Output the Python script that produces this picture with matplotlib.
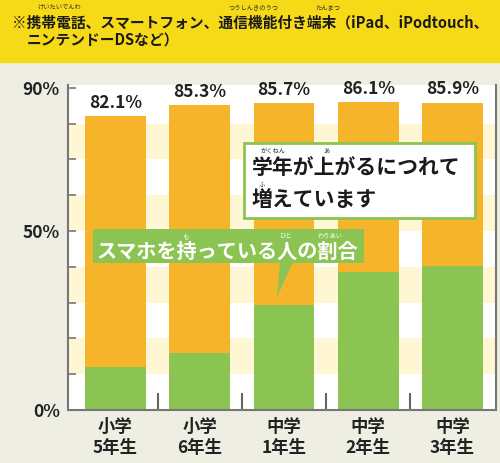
import numpy as np
import matplotlib.pyplot as plt
from matplotlib.patches import Rectangle, Polygon

plt.rcParams['font.family'] = ['Noto Sans CJK JP', 'DejaVu Sans']

# データ
grades = ['小学\n5年生', '小学\n6年生', '中学\n1年生', '中学\n2年生', '中学\n3年生']
total = [82.1, 85.3, 85.7, 86.1, 85.9]        # 携帯電話などを持っている割合
smartphone = [12.0, 16.0, 29.3, 38.5, 40.2]   # スマホを持っている割合
yticks = [0, 50, 90]

orange = '#f6b42b'
green = '#8bc452'
pale = '#fff7d4'
beige = '#efeee3'

W, H = 500, 463
def fx(x, y):
    return (x / W, 1 - y / H)

fig = plt.figure(figsize=(5, 4.63), dpi=100, facecolor=beige)
ax = fig.add_axes([68 / W, 1 - 410 / H, (496 - 68) / W, (410 - 85) / H])
ax.set_facecolor('white')

# 横じま
for lo in range(10, 90, 20):
    ax.axhspan(lo, lo + 10, color=pale, lw=0, zorder=0)

x = np.arange(len(grades))
other = np.array(total) - np.array(smartphone)
ax.bar(x, smartphone, width=0.72, color=green, zorder=2)
ax.bar(x, other, width=0.72, bottom=smartphone, color=orange, zorder=2)

for xi, t in zip(x, total):
    ax.annotate(f'{t}%', (xi, t), xytext=(0, 3), textcoords='offset points',
                ha='center', va='bottom', fontsize=12.5, fontweight='bold',
                color='#222222', zorder=3)

ax.set_xlim(-0.563, 4.516)
ax.set_ylim(0, 90.8)
ax.set_yticks(yticks)
ax.set_yticklabels([f'{v}%' for v in yticks], fontsize=12.5, fontweight='bold',
                   color='#222222')
ax.set_yticks(np.arange(10, 90, 10), minor=True)
ax.tick_params(axis='y', which='both', direction='in', length=6, width=1.2,
               color='#777777', pad=6)
ax.set_xticks(x)
ax.set_xticklabels(grades, fontsize=12.5, fontweight='bold', color='#222222',
                   linespacing=1.2)
ax.tick_params(axis='x', which='major', length=0, pad=6)
ax.set_xticks(x[:-1] + 0.5, minor=True)
ax.tick_params(axis='x', which='minor', direction='in', length=12, width=1.5,
               color='#666666')
for s in ['left', 'bottom', 'right']:
    ax.spines[s].set_color('#777777')
    ax.spines[s].set_linewidth(1.5)
ax.spines['top'].set_visible(False)

# 見出し
fig.patches.append(Rectangle(fx(0, 62), 1, 62 / H, transform=fig.transFigure,
                             color='#f6da17', zorder=0))
fig.text(*fx(12, 23), '※携帯電話、スマートフォン、通信機能付き端末（iPad、iPodtouch、',
         fontsize=10.6, fontweight='bold', va='center', ha='left', color='#1a1a1a')
fig.text(*fx(27, 41), 'ニンテンドーDSなど）', fontsize=10.6, fontweight='bold',
         va='center', ha='left', color='#1a1a1a')
for xx, s in [(59, 'けいたいでんわ'), (254, 'つうしんきのうつ'), (328, 'たんまつ')]:
    fig.text(*fx(xx, 7), s, fontsize=4.5, ha='center', va='center', color='#333333')

# 吹き出し（白）
fig.patches.append(Rectangle(fx(244, 218), (475 - 244) / W, (218 - 143) / H,
                             transform=fig.transFigure, facecolor='white',
                             edgecolor='#8bc452', lw=2, zorder=5))
fig.text(*fx(252, 168), '学年が上がるにつれて', fontsize=15, fontweight='bold',
         va='center', ha='left', color='#1a1a1a', zorder=6)
fig.text(*fx(252, 200), '増えています', fontsize=15, fontweight='bold',
         va='center', ha='left', color='#1a1a1a', zorder=6)
for xx, yy, s in [(273, 151, 'がくねん'), (326, 151, 'あ'), (262, 185, 'ふ')]:
    fig.text(*fx(xx, yy), s, fontsize=4.5, ha='center', va='center',
             color='#333333', zorder=6)

# 吹き出し（緑）
fig.patches.append(Rectangle(fx(93, 263), (364 - 93) / W, (263 - 229) / H,
                             transform=fig.transFigure, facecolor=green,
                             edgecolor='none', zorder=5))
fig.patches.append(Polygon([fx(280, 262), fx(293, 262), fx(277, 297)], closed=True,
                           transform=fig.transFigure, facecolor=green,
                           edgecolor='none', zorder=5))
fig.text(*fx(96, 251), 'スマホを持っている人の割合', fontsize=14.5, fontweight='bold',
         va='center', ha='left', color='white', zorder=6)
for xx, s in [(186, 'も'), (286, 'ひと'), (330, 'わりあい')]:
    fig.text(*fx(xx, 236), s, fontsize=4.5, ha='center', va='center',
             color='white', zorder=6)

fig.savefig('out.png', dpi=100, facecolor=beige)
